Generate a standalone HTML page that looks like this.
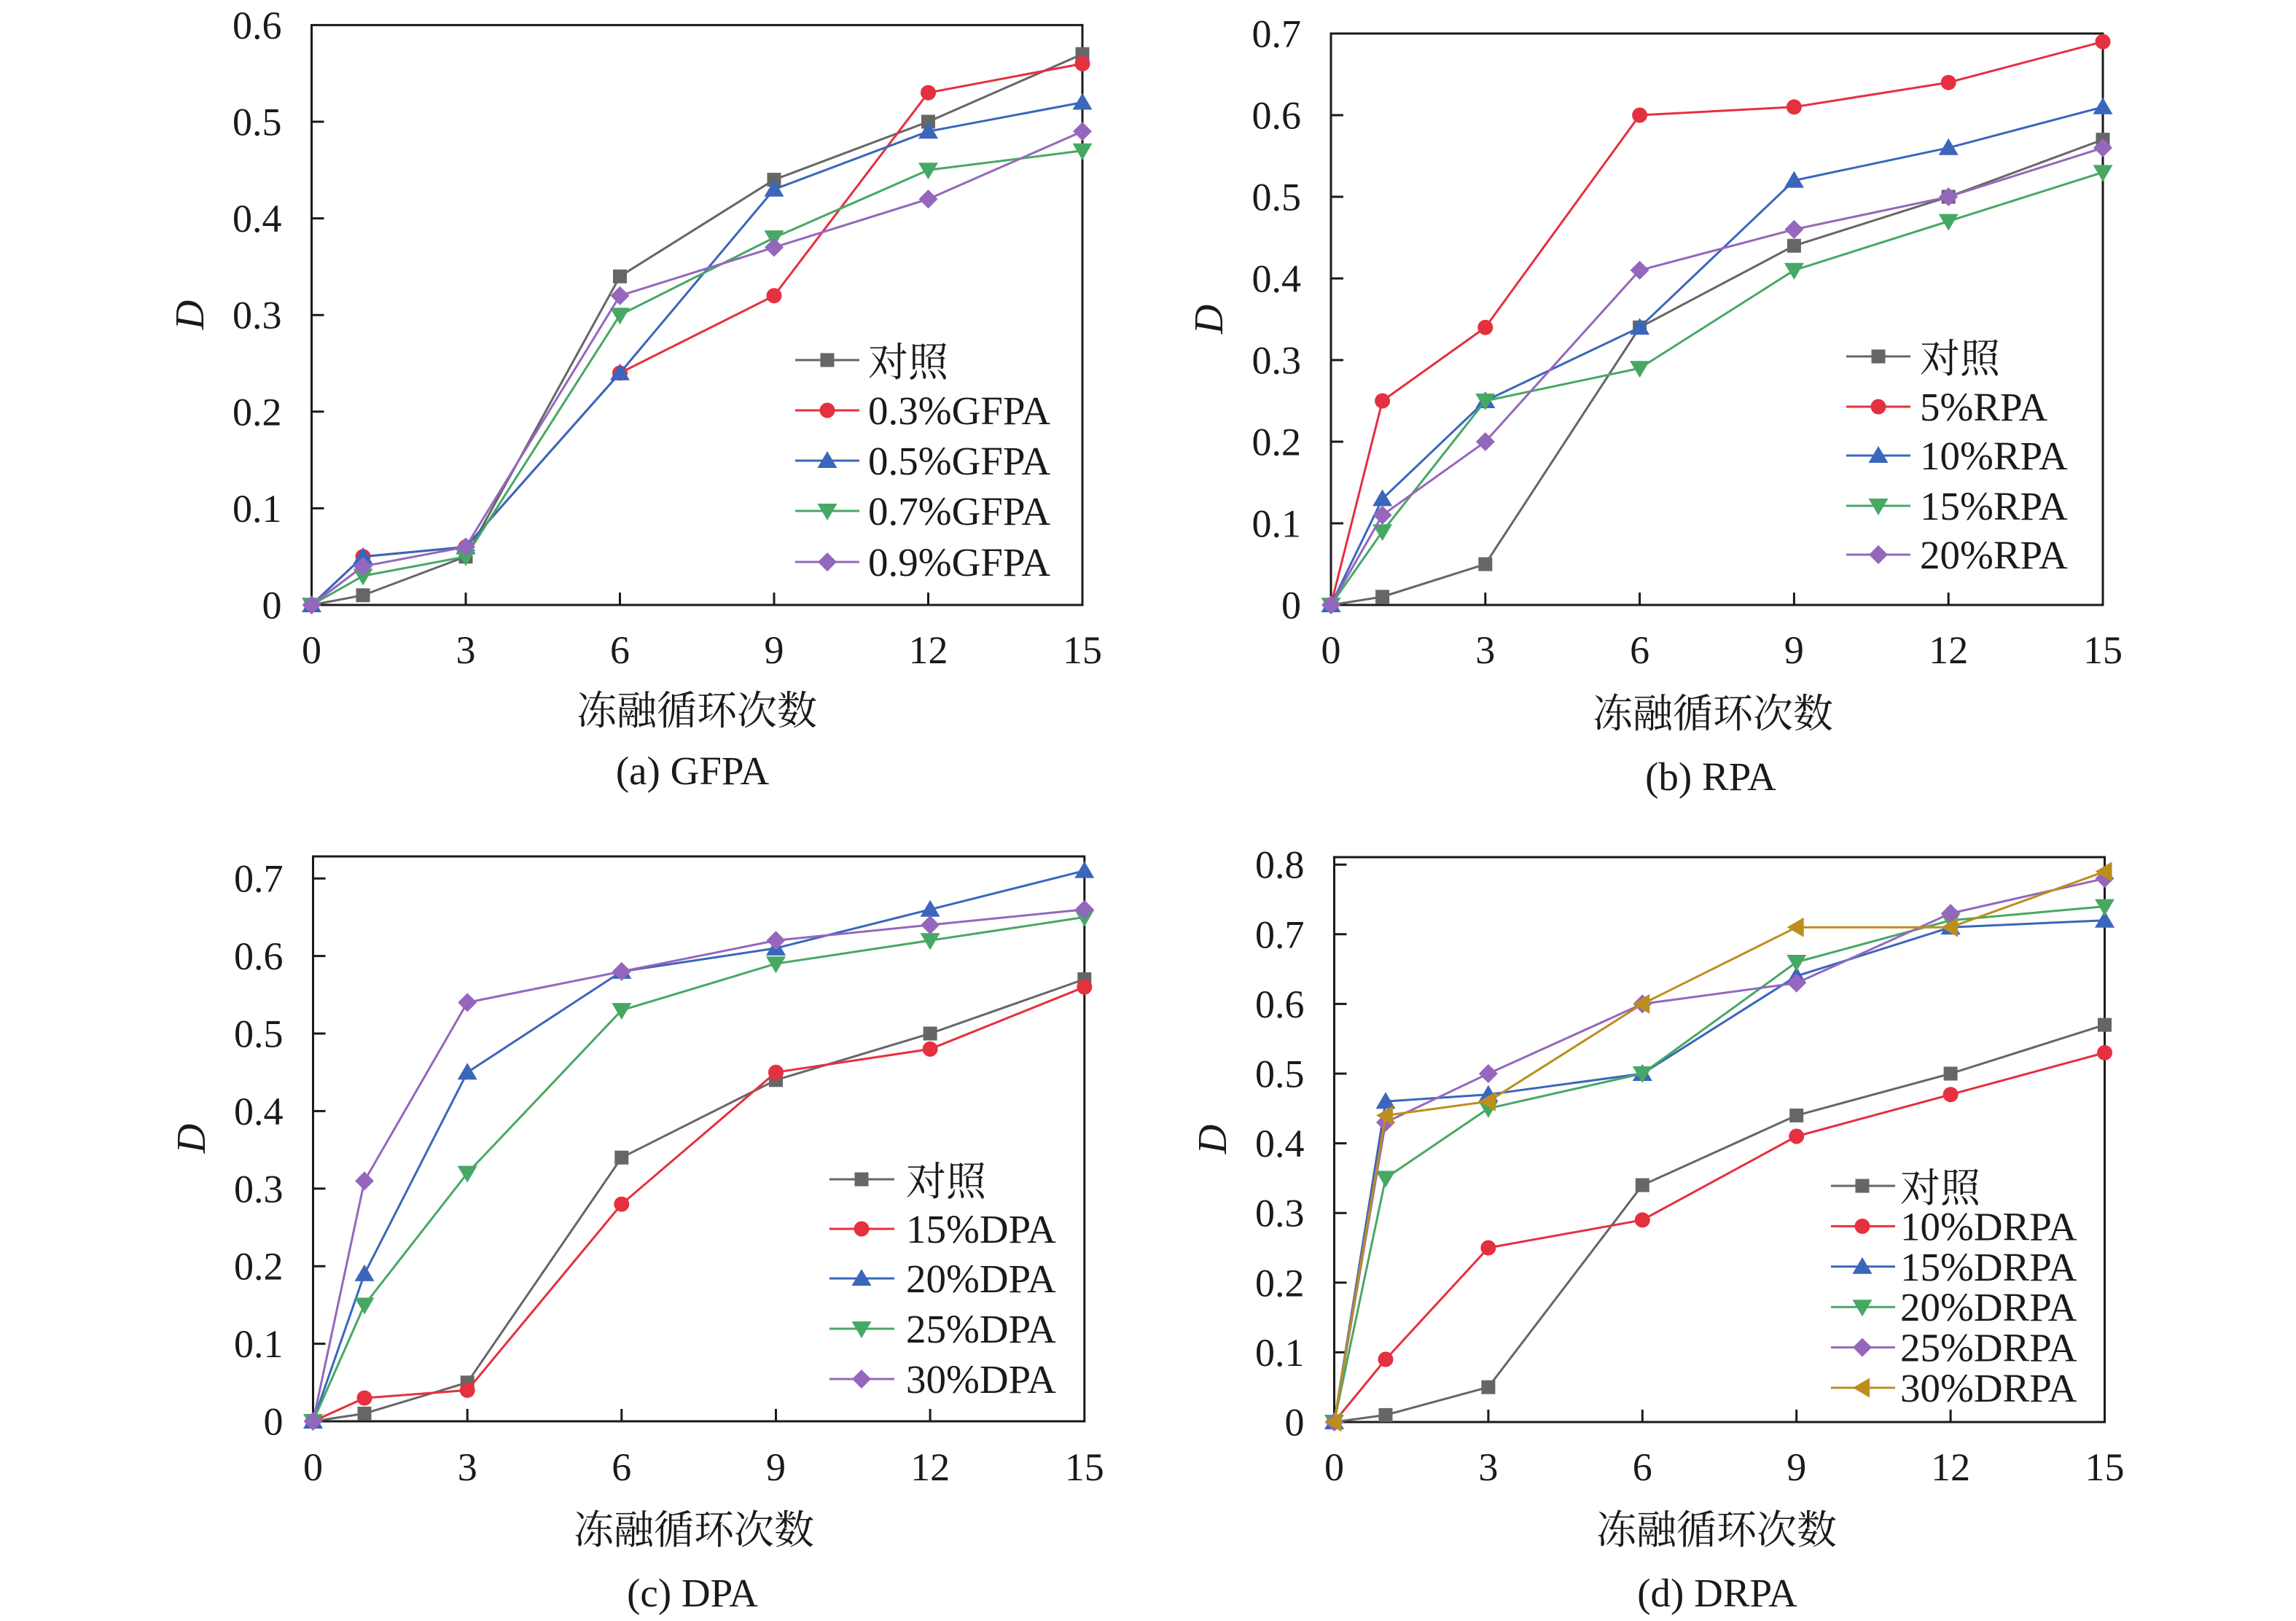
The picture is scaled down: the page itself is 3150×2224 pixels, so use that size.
<!DOCTYPE html>
<html>
<head>
<meta charset="utf-8">
<style>
html,body{margin:0;padding:0;background:#fff;}
body{width:3150px;height:2224px;overflow:hidden;position:relative;}
svg{position:absolute;left:0;top:0;}
.t{font-family:"Liberation Serif","Noto Serif CJK SC",serif;fill:#1a1a1a;}
.tk{font-size:54px;}
.lg{font-size:55px;}
.cap{font-size:55px;}
.ttl{font-family:"Noto Serif CJK SC","Liberation Serif",serif;font-size:55px;fill:#1a1a1a;}
.yl{font-family:"Liberation Serif",serif;font-style:italic;font-size:56px;fill:#1a1a1a;}
.ax{fill:none;stroke:#1a1a1a;stroke-width:3;}
.tick{stroke:#1a1a1a;stroke-width:3;}
.s{fill:none;stroke-width:3;stroke-linejoin:round;}
</style>
</head>
<body>
<svg width="3150" height="2224" viewBox="0 0 3150 2224" xmlns="http://www.w3.org/2000/svg" xmlns:xlink="http://www.w3.org/1999/xlink">
<defs>
<rect id="msq" x="-9.5" y="-9.5" width="19" height="19" fill="#666666"/>
<circle id="mci" r="10.5" fill="#E5303F"/>
<polygon id="mtu" points="0,-13 13.5,10 -13.5,10" fill="#3A66BC"/>
<polygon id="mtd" points="0,13 13.5,-10 -13.5,-10" fill="#47A865"/>
<polygon id="mdi" points="0,-13 13,0 0,13 -13,0" fill="#9467BD"/>
<polygon id="mtl" points="-13,0 10,-13.5 10,13.5" fill="#BD8E1E"/>
</defs>

<!-- ================= Panel (a) ================= -->
<rect class="ax" x="427.5" y="34.4" width="1057.5" height="795.6"/>
<g class="tick">
<line x1="427.5" y1="697.4" x2="444.5" y2="697.4"/>
<line x1="427.5" y1="564.8" x2="444.5" y2="564.8"/>
<line x1="427.5" y1="432.2" x2="444.5" y2="432.2"/>
<line x1="427.5" y1="299.6" x2="444.5" y2="299.6"/>
<line x1="427.5" y1="167" x2="444.5" y2="167"/>
<line x1="639" y1="830" x2="639" y2="813"/>
<line x1="850.5" y1="830" x2="850.5" y2="813"/>
<line x1="1062" y1="830" x2="1062" y2="813"/>
<line x1="1273.5" y1="830" x2="1273.5" y2="813"/>
</g>
<g class="t tk" text-anchor="end">
<text x="386.5" y="848.5">0</text>
<text x="386.5" y="715.9">0.1</text>
<text x="386.5" y="583.3">0.2</text>
<text x="386.5" y="450.7">0.3</text>
<text x="386.5" y="318.1">0.4</text>
<text x="386.5" y="185.5">0.5</text>
<text x="386.5" y="52.9">0.6</text>
</g>
<g class="t tk" text-anchor="middle">
<text x="427.5" y="910">0</text>
<text x="639" y="910">3</text>
<text x="850.5" y="910">6</text>
<text x="1062" y="910">9</text>
<text x="1273.5" y="910">12</text>
<text x="1485" y="910">15</text>
</g>
<text class="yl" transform="translate(279,432) rotate(-90)" text-anchor="middle">D</text>
<text class="ttl" x="956" y="994" text-anchor="middle">冻融循环次数</text>
<text class="t cap" x="950" y="1076" text-anchor="middle">(a) GFPA</text>

<polyline class="s" stroke="#666666" points="427.5,830 498,816.7 639,763.7 850.5,379.2 1062,246.6 1273.5,167 1485,74.2"/>
<use href="#msq" x="427.5" y="830"/><use href="#msq" x="498" y="816.7"/><use href="#msq" x="639" y="763.7"/><use href="#msq" x="850.5" y="379.2"/><use href="#msq" x="1062" y="246.6"/><use href="#msq" x="1273.5" y="167"/><use href="#msq" x="1485" y="74.2"/>
<polyline class="s" stroke="#E5303F" points="427.5,830 498,763.7 639,750.4 850.5,511.8 1062,405.7 1273.5,127.2 1485,87.4"/>
<use href="#mci" x="427.5" y="830"/><use href="#mci" x="498" y="763.7"/><use href="#mci" x="639" y="750.4"/><use href="#mci" x="850.5" y="511.8"/><use href="#mci" x="1062" y="405.7"/><use href="#mci" x="1273.5" y="127.2"/><use href="#mci" x="1485" y="87.4"/>
<polyline class="s" stroke="#3A66BC" points="427.5,830 498,763.7 639,750.4 850.5,511.8 1062,259.8 1273.5,180.3 1485,140.5"/>
<use href="#mtu" x="427.5" y="830"/><use href="#mtu" x="498" y="763.7"/><use href="#mtu" x="639" y="750.4"/><use href="#mtu" x="850.5" y="511.8"/><use href="#mtu" x="1062" y="259.8"/><use href="#mtu" x="1273.5" y="180.3"/><use href="#mtu" x="1485" y="140.5"/>
<polyline class="s" stroke="#47A865" points="427.5,830 498,790.2 639,763.7 850.5,432.2 1062,326.1 1273.5,233.3 1485,206.8"/>
<use href="#mtd" x="427.5" y="830"/><use href="#mtd" x="498" y="790.2"/><use href="#mtd" x="639" y="763.7"/><use href="#mtd" x="850.5" y="432.2"/><use href="#mtd" x="1062" y="326.1"/><use href="#mtd" x="1273.5" y="233.3"/><use href="#mtd" x="1485" y="206.8"/>
<polyline class="s" stroke="#9467BD" points="427.5,830 498,777 639,750.4 850.5,405.7 1062,339.4 1273.5,273.1 1485,180.3"/>
<use href="#mdi" x="427.5" y="830"/><use href="#mdi" x="498" y="777"/><use href="#mdi" x="639" y="750.4"/><use href="#mdi" x="850.5" y="405.7"/><use href="#mdi" x="1062" y="339.4"/><use href="#mdi" x="1273.5" y="273.1"/><use href="#mdi" x="1485" y="180.3"/>

<!-- legend a -->
<line class="s" stroke="#666666" x1="1091" y1="494" x2="1179" y2="494"/><use href="#msq" x="1135" y="494"/>
<line class="s" stroke="#E5303F" x1="1091" y1="563" x2="1179" y2="563"/><use href="#mci" x="1135" y="563"/>
<line class="s" stroke="#3A66BC" x1="1091" y1="632" x2="1179" y2="632"/><use href="#mtu" x="1135" y="632"/>
<line class="s" stroke="#47A865" x1="1091" y1="701" x2="1179" y2="701"/><use href="#mtd" x="1135" y="701"/>
<line class="s" stroke="#9467BD" x1="1091" y1="771" x2="1179" y2="771"/><use href="#mdi" x="1135" y="771"/>
<g class="t lg">
<text x="1191" y="516">对照</text>
<text x="1191" y="582">0.3%GFPA</text>
<text x="1191" y="651">0.5%GFPA</text>
<text x="1191" y="720">0.7%GFPA</text>
<text x="1191" y="790">0.9%GFPA</text>
</g>

<!-- ================= Panel (b) ================= -->
<rect class="ax" x="1826" y="46" width="1059" height="784"/>
<g class="tick">
<line x1="1826" y1="718" x2="1843" y2="718"/>
<line x1="1826" y1="606" x2="1843" y2="606"/>
<line x1="1826" y1="494" x2="1843" y2="494"/>
<line x1="1826" y1="382" x2="1843" y2="382"/>
<line x1="1826" y1="270" x2="1843" y2="270"/>
<line x1="1826" y1="158" x2="1843" y2="158"/>
<line x1="2037.8" y1="830" x2="2037.8" y2="813"/>
<line x1="2249.6" y1="830" x2="2249.6" y2="813"/>
<line x1="2461.4" y1="830" x2="2461.4" y2="813"/>
<line x1="2673.2" y1="830" x2="2673.2" y2="813"/>
</g>
<g class="t tk" text-anchor="end">
<text x="1785" y="848.5">0</text>
<text x="1785" y="736.5">0.1</text>
<text x="1785" y="624.5">0.2</text>
<text x="1785" y="512.5">0.3</text>
<text x="1785" y="400.5">0.4</text>
<text x="1785" y="288.5">0.5</text>
<text x="1785" y="176.5">0.6</text>
<text x="1785" y="64.5">0.7</text>
</g>
<g class="t tk" text-anchor="middle">
<text x="1826" y="910">0</text>
<text x="2037.8" y="910">3</text>
<text x="2249.6" y="910">6</text>
<text x="2461.4" y="910">9</text>
<text x="2673.2" y="910">12</text>
<text x="2885" y="910">15</text>
</g>
<text class="yl" transform="translate(1677,438) rotate(-90)" text-anchor="middle">D</text>
<text class="ttl" x="2350" y="998" text-anchor="middle">冻融循环次数</text>
<text class="t cap" x="2347" y="1084" text-anchor="middle">(b) RPA</text>

<polyline class="s" stroke="#666666" points="1826,830 1896.6,818.8 2037.8,774 2249.6,449.2 2461.4,337.2 2673.2,270 2885,191.6"/>
<use href="#msq" x="1826" y="830"/><use href="#msq" x="1896.6" y="818.8"/><use href="#msq" x="2037.8" y="774"/><use href="#msq" x="2249.6" y="449.2"/><use href="#msq" x="2461.4" y="337.2"/><use href="#msq" x="2673.2" y="270"/><use href="#msq" x="2885" y="191.6"/>
<polyline class="s" stroke="#E5303F" points="1826,830 1896.6,550 2037.8,449.2 2249.6,158 2461.4,146.8 2673.2,113.2 2885,57.2"/>
<use href="#mci" x="1826" y="830"/><use href="#mci" x="1896.6" y="550"/><use href="#mci" x="2037.8" y="449.2"/><use href="#mci" x="2249.6" y="158"/><use href="#mci" x="2461.4" y="146.8"/><use href="#mci" x="2673.2" y="113.2"/><use href="#mci" x="2885" y="57.2"/>
<polyline class="s" stroke="#3A66BC" points="1826,830 1896.6,684.4 2037.8,550 2249.6,449.2 2461.4,247.6 2673.2,202.8 2885,146.8"/>
<use href="#mtu" x="1826" y="830"/><use href="#mtu" x="1896.6" y="684.4"/><use href="#mtu" x="2037.8" y="550"/><use href="#mtu" x="2249.6" y="449.2"/><use href="#mtu" x="2461.4" y="247.6"/><use href="#mtu" x="2673.2" y="202.8"/><use href="#mtu" x="2885" y="146.8"/>
<polyline class="s" stroke="#47A865" points="1826,830 1896.6,729.2 2037.8,550 2249.6,505.2 2461.4,370.8 2673.2,303.6 2885,236.4"/>
<use href="#mtd" x="1826" y="830"/><use href="#mtd" x="1896.6" y="729.2"/><use href="#mtd" x="2037.8" y="550"/><use href="#mtd" x="2249.6" y="505.2"/><use href="#mtd" x="2461.4" y="370.8"/><use href="#mtd" x="2673.2" y="303.6"/><use href="#mtd" x="2885" y="236.4"/>
<polyline class="s" stroke="#9467BD" points="1826,830 1896.6,706.8 2037.8,606 2249.6,370.8 2461.4,314.8 2673.2,270 2885,202.8"/>
<use href="#mdi" x="1826" y="830"/><use href="#mdi" x="1896.6" y="706.8"/><use href="#mdi" x="2037.8" y="606"/><use href="#mdi" x="2249.6" y="370.8"/><use href="#mdi" x="2461.4" y="314.8"/><use href="#mdi" x="2673.2" y="270"/><use href="#mdi" x="2885" y="202.8"/>

<!-- legend b -->
<line class="s" stroke="#666666" x1="2533" y1="489" x2="2621" y2="489"/><use href="#msq" x="2577" y="489"/>
<line class="s" stroke="#E5303F" x1="2533" y1="558" x2="2621" y2="558"/><use href="#mci" x="2577" y="558"/>
<line class="s" stroke="#3A66BC" x1="2533" y1="625" x2="2621" y2="625"/><use href="#mtu" x="2577" y="625"/>
<line class="s" stroke="#47A865" x1="2533" y1="694" x2="2621" y2="694"/><use href="#mtd" x="2577" y="694"/>
<line class="s" stroke="#9467BD" x1="2533" y1="761" x2="2621" y2="761"/><use href="#mdi" x="2577" y="761"/>
<g class="t lg">
<text x="2634" y="511">对照</text>
<text x="2634" y="577">5%RPA</text>
<text x="2634" y="644">10%RPA</text>
<text x="2634" y="713">15%RPA</text>
<text x="2634" y="780">20%RPA</text>
</g>

<!-- ================= Panel (c) ================= -->
<rect class="ax" x="429.5" y="1175" width="1058.3" height="775"/>
<g class="tick">
<line x1="429.5" y1="1843.6" x2="446.5" y2="1843.6"/>
<line x1="429.5" y1="1737.2" x2="446.5" y2="1737.2"/>
<line x1="429.5" y1="1630.8" x2="446.5" y2="1630.8"/>
<line x1="429.5" y1="1524.4" x2="446.5" y2="1524.4"/>
<line x1="429.5" y1="1418" x2="446.5" y2="1418"/>
<line x1="429.5" y1="1311.6" x2="446.5" y2="1311.6"/>
<line x1="429.5" y1="1205.2" x2="446.5" y2="1205.2"/>
<line x1="641.2" y1="1950" x2="641.2" y2="1933"/>
<line x1="852.8" y1="1950" x2="852.8" y2="1933"/>
<line x1="1064.5" y1="1950" x2="1064.5" y2="1933"/>
<line x1="1276.1" y1="1950" x2="1276.1" y2="1933"/>
</g>
<g class="t tk" text-anchor="end">
<text x="388.5" y="1968.5">0</text>
<text x="388.5" y="1862.1">0.1</text>
<text x="388.5" y="1755.7">0.2</text>
<text x="388.5" y="1649.3">0.3</text>
<text x="388.5" y="1542.9">0.4</text>
<text x="388.5" y="1436.5">0.5</text>
<text x="388.5" y="1330.1">0.6</text>
<text x="388.5" y="1223.7">0.7</text>
</g>
<g class="t tk" text-anchor="middle">
<text x="429.5" y="2031">0</text>
<text x="641.2" y="2031">3</text>
<text x="852.8" y="2031">6</text>
<text x="1064.5" y="2031">9</text>
<text x="1276.1" y="2031">12</text>
<text x="1487.8" y="2031">15</text>
</g>
<text class="yl" transform="translate(281,1562) rotate(-90)" text-anchor="middle">D</text>
<text class="ttl" x="952" y="2118" text-anchor="middle">冻融循环次数</text>
<text class="t cap" x="950" y="2204" text-anchor="middle">(c) DPA</text>

<polyline class="s" stroke="#666666" points="429.5,1950 500,1939.4 641.2,1896.8 852.8,1588.2 1064.5,1481.8 1276.1,1418 1487.8,1343.5"/>
<use href="#msq" x="429.5" y="1950"/><use href="#msq" x="500" y="1939.4"/><use href="#msq" x="641.2" y="1896.8"/><use href="#msq" x="852.8" y="1588.2"/><use href="#msq" x="1064.5" y="1481.8"/><use href="#msq" x="1276.1" y="1418"/><use href="#msq" x="1487.8" y="1343.5"/>
<polyline class="s" stroke="#E5303F" points="429.5,1950 500,1918.1 641.2,1907.4 852.8,1652.1 1064.5,1471.2 1276.1,1439.3 1487.8,1354.2"/>
<use href="#mci" x="429.5" y="1950"/><use href="#mci" x="500" y="1918.1"/><use href="#mci" x="641.2" y="1907.4"/><use href="#mci" x="852.8" y="1652.1"/><use href="#mci" x="1064.5" y="1471.2"/><use href="#mci" x="1276.1" y="1439.3"/><use href="#mci" x="1487.8" y="1354.2"/>
<polyline class="s" stroke="#3A66BC" points="429.5,1950 500,1747.8 641.2,1471.2 852.8,1332.9 1064.5,1300.9 1276.1,1247.8 1487.8,1194.6"/>
<use href="#mtu" x="429.5" y="1950"/><use href="#mtu" x="500" y="1747.8"/><use href="#mtu" x="641.2" y="1471.2"/><use href="#mtu" x="852.8" y="1332.9"/><use href="#mtu" x="1064.5" y="1300.9"/><use href="#mtu" x="1276.1" y="1247.8"/><use href="#mtu" x="1487.8" y="1194.6"/>
<polyline class="s" stroke="#47A865" points="429.5,1950 500,1790.4 641.2,1609.5 852.8,1386.1 1064.5,1322.2 1276.1,1290.3 1487.8,1258.4"/>
<use href="#mtd" x="429.5" y="1950"/><use href="#mtd" x="500" y="1790.4"/><use href="#mtd" x="641.2" y="1609.5"/><use href="#mtd" x="852.8" y="1386.1"/><use href="#mtd" x="1064.5" y="1322.2"/><use href="#mtd" x="1276.1" y="1290.3"/><use href="#mtd" x="1487.8" y="1258.4"/>
<polyline class="s" stroke="#9467BD" points="429.5,1950 500,1620.2 641.2,1375.4 852.8,1332.9 1064.5,1290.3 1276.1,1269 1487.8,1247.8"/>
<use href="#mdi" x="429.5" y="1950"/><use href="#mdi" x="500" y="1620.2"/><use href="#mdi" x="641.2" y="1375.4"/><use href="#mdi" x="852.8" y="1332.9"/><use href="#mdi" x="1064.5" y="1290.3"/><use href="#mdi" x="1276.1" y="1269"/><use href="#mdi" x="1487.8" y="1247.8"/>

<!-- legend c -->
<line class="s" stroke="#666666" x1="1138" y1="1618" x2="1227" y2="1618"/><use href="#msq" x="1182" y="1618"/>
<line class="s" stroke="#E5303F" x1="1138" y1="1686" x2="1227" y2="1686"/><use href="#mci" x="1182" y="1686"/>
<line class="s" stroke="#3A66BC" x1="1138" y1="1754" x2="1227" y2="1754"/><use href="#mtu" x="1182" y="1754"/>
<line class="s" stroke="#47A865" x1="1138" y1="1823" x2="1227" y2="1823"/><use href="#mtd" x="1182" y="1823"/>
<line class="s" stroke="#9467BD" x1="1138" y1="1892" x2="1227" y2="1892"/><use href="#mdi" x="1182" y="1892"/>
<g class="t lg">
<text x="1243" y="1640">对照</text>
<text x="1243" y="1705">15%DPA</text>
<text x="1243" y="1773">20%DPA</text>
<text x="1243" y="1842">25%DPA</text>
<text x="1243" y="1911">30%DPA</text>
</g>

<!-- ================= Panel (d) ================= -->
<rect class="ax" x="1830.5" y="1176" width="1057" height="775"/>
<g class="tick">
<line x1="1830.5" y1="1855.4" x2="1847.5" y2="1855.4"/>
<line x1="1830.5" y1="1759.8" x2="1847.5" y2="1759.8"/>
<line x1="1830.5" y1="1664.2" x2="1847.5" y2="1664.2"/>
<line x1="1830.5" y1="1568.6" x2="1847.5" y2="1568.6"/>
<line x1="1830.5" y1="1473" x2="1847.5" y2="1473"/>
<line x1="1830.5" y1="1377.4" x2="1847.5" y2="1377.4"/>
<line x1="1830.5" y1="1281.8" x2="1847.5" y2="1281.8"/>
<line x1="1830.5" y1="1186.2" x2="1847.5" y2="1186.2"/>
<line x1="2041.9" y1="1951" x2="2041.9" y2="1934"/>
<line x1="2253.3" y1="1951" x2="2253.3" y2="1934"/>
<line x1="2464.7" y1="1951" x2="2464.7" y2="1934"/>
<line x1="2676.1" y1="1951" x2="2676.1" y2="1934"/>
</g>
<g class="t tk" text-anchor="end">
<text x="1789.5" y="1969.5">0</text>
<text x="1789.5" y="1873.9">0.1</text>
<text x="1789.5" y="1778.3">0.2</text>
<text x="1789.5" y="1682.7">0.3</text>
<text x="1789.5" y="1587.1">0.4</text>
<text x="1789.5" y="1491.5">0.5</text>
<text x="1789.5" y="1395.9">0.6</text>
<text x="1789.5" y="1300.3">0.7</text>
<text x="1789.5" y="1204.7">0.8</text>
</g>
<g class="t tk" text-anchor="middle">
<text x="1830.5" y="2031">0</text>
<text x="2041.9" y="2031">3</text>
<text x="2253.3" y="2031">6</text>
<text x="2464.7" y="2031">9</text>
<text x="2676.1" y="2031">12</text>
<text x="2887.5" y="2031">15</text>
</g>
<text class="yl" transform="translate(1682,1563) rotate(-90)" text-anchor="middle">D</text>
<text class="ttl" x="2355" y="2118" text-anchor="middle">冻融循环次数</text>
<text class="t cap" x="2356" y="2204" text-anchor="middle">(d) DRPA</text>

<polyline class="s" stroke="#666666" points="1830.5,1951 1901,1941.4 2041.9,1903.2 2253.3,1626 2464.7,1530.4 2676.1,1473 2887.5,1406.1"/>
<use href="#msq" x="1830.5" y="1951"/><use href="#msq" x="1901" y="1941.4"/><use href="#msq" x="2041.9" y="1903.2"/><use href="#msq" x="2253.3" y="1626"/><use href="#msq" x="2464.7" y="1530.4"/><use href="#msq" x="2676.1" y="1473"/><use href="#msq" x="2887.5" y="1406.1"/>
<polyline class="s" stroke="#E5303F" points="1830.5,1951 1901,1865 2041.9,1712 2253.3,1673.8 2464.7,1559 2676.1,1501.7 2887.5,1444.3"/>
<use href="#mci" x="1830.5" y="1951"/><use href="#mci" x="1901" y="1865"/><use href="#mci" x="2041.9" y="1712"/><use href="#mci" x="2253.3" y="1673.8"/><use href="#mci" x="2464.7" y="1559"/><use href="#mci" x="2676.1" y="1501.7"/><use href="#mci" x="2887.5" y="1444.3"/>
<polyline class="s" stroke="#3A66BC" points="1830.5,1951 1901,1511.2 2041.9,1501.7 2253.3,1473 2464.7,1339.2 2676.1,1272.2 2887.5,1262.7"/>
<use href="#mtu" x="1830.5" y="1951"/><use href="#mtu" x="1901" y="1511.2"/><use href="#mtu" x="2041.9" y="1501.7"/><use href="#mtu" x="2253.3" y="1473"/><use href="#mtu" x="2464.7" y="1339.2"/><use href="#mtu" x="2676.1" y="1272.2"/><use href="#mtu" x="2887.5" y="1262.7"/>
<polyline class="s" stroke="#47A865" points="1830.5,1951 1901,1616.4 2041.9,1520.8 2253.3,1473 2464.7,1320 2676.1,1262.7 2887.5,1243.6"/>
<use href="#mtd" x="1830.5" y="1951"/><use href="#mtd" x="1901" y="1616.4"/><use href="#mtd" x="2041.9" y="1520.8"/><use href="#mtd" x="2253.3" y="1473"/><use href="#mtd" x="2464.7" y="1320"/><use href="#mtd" x="2676.1" y="1262.7"/><use href="#mtd" x="2887.5" y="1243.6"/>
<polyline class="s" stroke="#9467BD" points="1830.5,1951 1901,1539.9 2041.9,1473 2253.3,1377.4 2464.7,1348.7 2676.1,1253.1 2887.5,1205.3"/>
<use href="#mdi" x="1830.5" y="1951"/><use href="#mdi" x="1901" y="1539.9"/><use href="#mdi" x="2041.9" y="1473"/><use href="#mdi" x="2253.3" y="1377.4"/><use href="#mdi" x="2464.7" y="1348.7"/><use href="#mdi" x="2676.1" y="1253.1"/><use href="#mdi" x="2887.5" y="1205.3"/>
<polyline class="s" stroke="#BD8E1E" points="1830.5,1951 1901,1530.4 2041.9,1511.2 2253.3,1377.4 2464.7,1272.2 2676.1,1272.2 2887.5,1195.8"/>
<use href="#mtl" x="1830.5" y="1951"/><use href="#mtl" x="1901" y="1530.4"/><use href="#mtl" x="2041.9" y="1511.2"/><use href="#mtl" x="2253.3" y="1377.4"/><use href="#mtl" x="2464.7" y="1272.2"/><use href="#mtl" x="2676.1" y="1272.2"/><use href="#mtl" x="2887.5" y="1195.8"/>

<!-- legend d -->
<line class="s" stroke="#666666" x1="2512" y1="1627" x2="2600" y2="1627"/><use href="#msq" x="2555" y="1627"/>
<line class="s" stroke="#E5303F" x1="2512" y1="1682.4" x2="2600" y2="1682.4"/><use href="#mci" x="2555" y="1682.4"/>
<line class="s" stroke="#3A66BC" x1="2512" y1="1737.8" x2="2600" y2="1737.8"/><use href="#mtu" x="2555" y="1737.8"/>
<line class="s" stroke="#47A865" x1="2512" y1="1793.2" x2="2600" y2="1793.2"/><use href="#mtd" x="2555" y="1793.2"/>
<line class="s" stroke="#9467BD" x1="2512" y1="1848.6" x2="2600" y2="1848.6"/><use href="#mdi" x="2555" y="1848.6"/>
<line class="s" stroke="#BD8E1E" x1="2512" y1="1904" x2="2600" y2="1904"/><use href="#mtl" x="2555" y="1904"/>
<g class="t lg">
<text x="2607" y="1649">对照</text>
<text x="2607" y="1701.4">10%DRPA</text>
<text x="2607" y="1756.8">15%DRPA</text>
<text x="2607" y="1812.2">20%DRPA</text>
<text x="2607" y="1867.6">25%DRPA</text>
<text x="2607" y="1923">30%DRPA</text>
</g>
</svg>
</body>
</html>
